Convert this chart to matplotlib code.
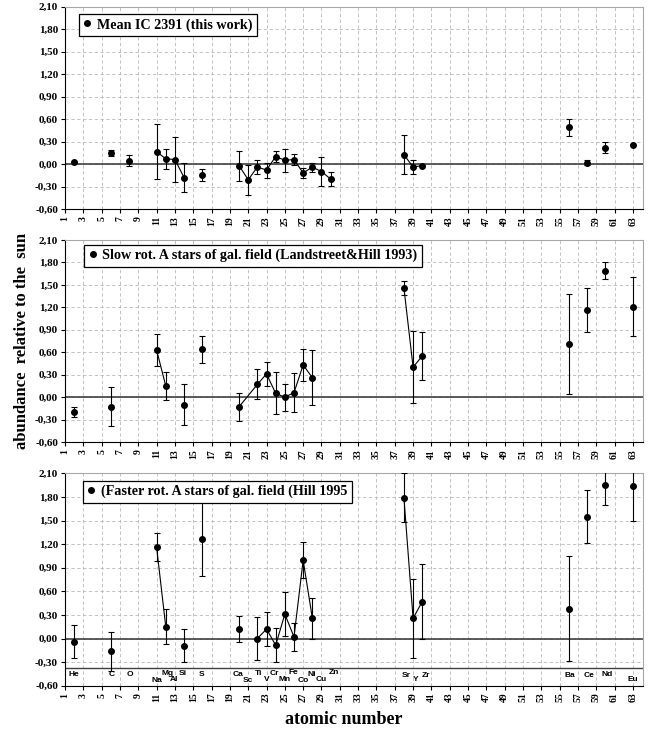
import numpy as np
import matplotlib
matplotlib.use('Agg')
import matplotlib.pyplot as plt
from matplotlib.lines import Line2D

plt.rcParams['font.family'] = ['Liberation Serif', 'DejaVu Serif']
plt.rcParams['font.weight'] = 'bold'

# Mean IC 2391 (this work)
z_ic = [2, 6, 8, 11, 12, 13, 14, 16, 20, 21, 22, 23, 24, 25, 26, 27, 28, 29, 30, 38, 39, 40, 56, 58, 60, 63]
y_ic = [0.03, 0.15, 0.045, 0.165, 0.07, 0.06, -0.18, -0.14, -0.02, -0.21, -0.04, -0.08, 0.10, 0.05,
        0.06, -0.12, -0.04, -0.10, -0.20, 0.125, -0.04, -0.02, 0.49, 0.02, 0.22, 0.26]
e_ic = [0.0, 0.04, 0.07, 0.37, 0.13, 0.30, 0.19, 0.08, 0.20, 0.20, 0.09, 0.10, 0.07, 0.15,
        0.07, 0.07, 0.06, 0.19, 0.095, 0.26, 0.09, 0.0, 0.11, 0.03, 0.07, 0.0]
link_ic = [(11, 14), (20, 30), (38, 40)]

# Slow rot. A stars (Landstreet & Hill 1993)
z_lh = [2, 6, 11, 12, 14, 16, 20, 22, 23, 24, 25, 26, 27, 28, 38, 39, 40, 56, 58, 60, 63]
y_lh = [-0.20, -0.13, 0.63, 0.15, -0.10, 0.64, -0.13, 0.17, 0.31, 0.05, 0.00, 0.06, 0.43, 0.26,
        1.46, 0.40, 0.55, 0.71, 1.165, 1.69, 1.21]
e_lh = [0.07, 0.26, 0.21, 0.19, 0.275, 0.18, 0.19, 0.20, 0.16, 0.28, 0.18, 0.265, 0.21, 0.37,
        0.09, 0.485, 0.32, 0.67, 0.29, 0.11, 0.39]
link_lh = [(11, 12), (20, 28), (38, 40)]

# Faster rot. A stars (Hill 1995)
z_h = [2, 6, 11, 12, 14, 16, 20, 22, 23, 24, 25, 26, 27, 28, 38, 39, 40, 56, 58, 60, 63]
y_h = [-0.04, -0.165, 1.16, 0.15, -0.09, 1.27, 0.12, 0.00, 0.12, -0.085, 0.31, 0.02, 0.995, 0.26,
       1.79, 0.255, 0.47, 0.38, 1.55, 1.95, 1.94]
e_h = [0.21, 0.25, 0.18, 0.22, 0.21, 0.47, 0.16, 0.27, 0.22, 0.215, 0.275, 0.18, 0.23, 0.26,
       0.31, 0.50, 0.475, 0.67, 0.335, 0.25, 0.44]
link_h = [(11, 12), (22, 28), (38, 40)]

# element labels in the bottom panel
el_names = ['He', 'C', 'O', 'Na', 'Mg', 'Al', 'Si', 'S', 'Ca', 'Sc', 'Ti', 'V', 'Cr', 'Mn', 'Fe',
            'Co', 'Ni', 'Cu', 'Zn', 'Sr', 'Y', 'Zr', 'Ba', 'Ce', 'Nd', 'Eu']
el_x = [2, 6.1, 8.1, 11, 12.2, 12.9, 13.9, 15.9, 19.9, 21, 22.1, 23, 23.9, 25, 25.9,
        27, 27.9, 29, 30.4, 38.2, 39.3, 40.4, 56.1, 58.2, 60.2, 63]
el_y = [-0.455, -0.455, -0.455, -0.53, -0.44, -0.515, -0.44, -0.455, -0.455, -0.53, -0.44, -0.525, -0.44,
        -0.525, -0.435, -0.53, -0.46, -0.52, -0.43, -0.47, -0.52, -0.47, -0.47, -0.47, -0.46, -0.527]

yticks = np.arange(-0.6, 2.11, 0.3)
xticks = np.arange(1, 64, 2)

W, H = 659, 729
fig = plt.figure(figsize=(W / 100, H / 100), dpi=100)

panels = [
    (6.7, 209, z_ic, y_ic, e_ic, link_ic, 'Mean IC 2391 (this work)', (0.024, 0.965)),
    (240, 442, z_lh, y_lh, e_lh, link_lh, 'Slow rot. A stars of gal. field (Landstreet&Hill 1993)', (0.033, 0.977)),
    (473.3, 685.7, z_h, y_h, e_h, link_h, '(Faster rot. A stars of gal. field (Hill 1995', (0.031, 0.966)),
]

axes = []
for top, bot, z, y, e, links, label, lpos in panels:
    ax = fig.add_axes([65 / W, 1 - bot / H, (643 - 65) / W, (bot - top) / H])
    axes.append(ax)
    ax.set_xlim(1, 64.1)
    ax.set_ylim(-0.6, 2.1)
    ax.set_xticks(xticks)
    ax.set_xticklabels([str(t) for t in xticks], rotation=90, fontsize=7)
    ax.set_yticks(yticks)
    ax.set_yticklabels([('%.2f' % t).replace('.', ',').replace('-0,00', '0,00') for t in yticks], fontsize=8)
    ax.grid(True, color='#b8b8b8', ls=(0, (4, 3)), lw=0.6)
    ax.set_axisbelow(True)
    for s in ['top', 'right']:
        ax.spines[s].set_color('#a8a8a8')
    ax.tick_params(direction='out', length=3, width=0.8, pad=2)
    ax.axhline(0, color='#404040', lw=1.2, zorder=1)

    z = np.array(z)
    y = np.array(y)
    e = np.array(e)
    ax.errorbar(z, y, yerr=e, fmt='o', color='k', ms=4, elinewidth=0.8, capsize=2, capthick=0.8, zorder=3)
    for a, b in links:
        m = (z >= a) & (z <= b)
        ax.plot(z[m], y[m], color='k', lw=0.8, zorder=2)

    h = Line2D([], [], marker='o', color='k', ls='none', ms=4)
    leg = ax.legend([h], [label], loc='upper left', bbox_to_anchor=lpos, fancybox=False,
                    framealpha=1, edgecolor='k', handlelength=0.6, handletextpad=0.4,
                    borderpad=0.3, borderaxespad=0, prop={'size': 10.2, 'weight': 'bold'})
    leg.get_frame().set_linewidth(0.9)

# element row in bottom panel
ax = axes[2]
ax.axhline(-0.38, color='#404040', lw=1.0, zorder=1)
for name, x, yy in zip(el_names, el_x, el_y):
    ax.text(x, yy, name, ha='center', va='center', fontsize=6, fontweight='bold',
            family=['Liberation Sans', 'DejaVu Sans'])

fig.text(22 / W, 1 - 341 / H, 'abundance  relative to the  sun', rotation=90, ha='center', va='center',
         fontsize=12, fontweight='bold')
fig.text(344 / W, 1 - 719 / H, 'atomic number', ha='center', va='center', fontsize=13, fontweight='bold')

fig.savefig('out.png', dpi=100)
